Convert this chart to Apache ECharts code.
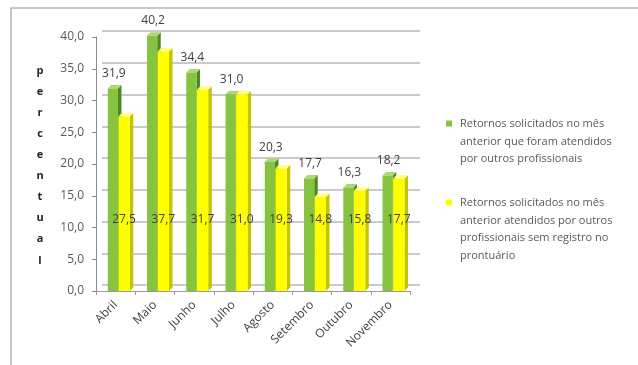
<!DOCTYPE html>
<html><head><meta charset="utf-8">
<script src="https://cdn.jsdelivr.net/npm/echarts@6/dist/echarts.min.js"></script>
<style>html,body{margin:0;padding:0;background:#fff}#c{width:638px;height:365px}</style>
</head><body><div id="c"></div>
<script>
const months = ['Abril','Maio','Junho','Julho','Agosto','Setembro','Outubro','Novembro'];
const atendidos = [31.9,40.2,34.4,31.0,20.3,17.7,16.3,18.2];
const semRegistro = [27.5,37.7,31.7,31.0,19.3,14.8,15.8,17.7];
const seriesNames = ['Retornos solicitados no mês anterior que foram atendidos por outros profissionais',
  'Retornos solicitados no mês anterior atendidos por outros profissionais sem registro no prontuário'];
const legendLines = [
  'Retornos solicitados no mês\nanterior que foram atendidos\npor outros profissionais',
  'Retornos solicitados no mês\nanterior atendidos por outros\nprofissionais sem registro no\nprontuário'];
const yTitle = 'percentual';
const yMin = 0, yMax = 40, yStep = 5;

const FONT = '"Open Sans"';
const fmt = v => v.toFixed(1).replace('.', ',');
const palette = [
  {front:'#86c440', side:'#4d8a1c', top:'#a9d874'},
  {front:'#ffff00', side:'#c4c400', top:'#ffff8a'}
];

function makeRender(kind){
  return function(params, api){
    const i = api.value(0), v = api.value(1);
    const top = api.coord([i, v]);
    const base = api.coord([i, 0]);
    const b = api.size([1, 0])[0];
    const c = top[0];
    const x0 = kind === 0 ? c - 0.2*b : c + 0.07*b;
    const w = kind === 0 ? 0.26*b : 0.29*b;
    const d = 3.5;
    const col = palette[kind];
    const ty = top[1], by = base[1];
    const children = [
      {type:'polygon', shape:{points:[[x0+w,ty],[x0+w+d,ty-d],[x0+w+d,by-d],[x0+w,by]]}, style:{fill:col.side}},
      {type:'polygon', shape:{points:[[x0,ty],[x0+d,ty-d],[x0+w+d,ty-d],[x0+w,ty]]}, style:{fill:col.top}},
      {type:'rect', shape:{x:x0, y:ty, width:w, height:by-ty}, style:{fill:col.front}},
      {type:'text', z2:10, style:{
        text: fmt(v),
        x: kind === 0 ? x0 + w/2 + 1 : x0 + w/2,
        y: kind === 0 ? ty - 15 : by - 71,
        align:'center', verticalAlign:'middle',
        font: '12px ' + FONT, fill:'#404040'}}
    ];
    return {type:'group', children};
  };
}

const chart = echarts.init(document.getElementById('c'));
chart.setOption({
  animation:false,
  backgroundColor:'#fff',
  textStyle:{fontFamily:'Open Sans'},
  grid:[
    {left:96, right:228, top:37, bottom:74},
    {left:102, right:218, top:31, bottom:80}
  ],
  xAxis:[
    {type:'category', gridIndex:0, data:months,
      axisLine:{lineStyle:{color:'#9a9a9a', width:1}},
      axisTick:{show:true, length:4, lineStyle:{color:'#9a9a9a'}},
      axisLabel:{rotate:45, fontSize:12, color:'#404040', margin:12, fontFamily:'Open Sans'}},
    {type:'category', gridIndex:1, data:months, show:false}
  ],
  yAxis:[
    {type:'value', gridIndex:0, min:yMin, max:yMax, interval:yStep,
      axisLine:{show:true, lineStyle:{color:'#8a8a8a', width:1}},
      axisTick:{show:true, length:4, lineStyle:{color:'#8a8a8a'}},
      splitLine:{show:false},
      axisLabel:{formatter:v=>fmt(v), fontSize:12, color:'#595959', margin:12, fontFamily:'Open Sans'}},
    {type:'value', gridIndex:1, min:yMin, max:yMax, interval:yStep,
      axisLine:{show:false}, axisTick:{show:false}, axisLabel:{show:false},
      splitLine:{show:true, lineStyle:{color:'#b8b8b8', width:1.5}}}
  ],
  series:[
    {type:'custom', name:seriesNames[0], xAxisIndex:0, yAxisIndex:0,
      renderItem:makeRender(0), encode:{x:0, y:1}, z:3,
      data:atendidos.map((v,i)=>[i,v])},
    {type:'custom', name:seriesNames[1], xAxisIndex:0, yAxisIndex:0,
      renderItem:makeRender(1), encode:{x:0, y:1}, z:4,
      data:semRegistro.map((v,i)=>[i,v])}
  ],
  graphic:[
    {type:'rect', shape:{x:11, y:8, width:640, height:370}, style:{fill:'none', stroke:'#b5b5b5', lineWidth:1.5}, silent:true},
    {type:'text', x:40, y:60, style:{text:yTitle.split('').join('\n'), align:'center', verticalAlign:'top',
      font:'bold 11px ' + FONT, lineHeight:21.1, fill:'#262626'}},
    {type:'rect', shape:{x:446, y:120.5, width:6, height:6}, style:{fill:palette[0].front}},
    {type:'text', x:460, y:115, style:{text:legendLines[0], font:'11px ' + FONT, lineHeight:17.7, fill:'#595959', verticalAlign:'top'}},
    {type:'rect', shape:{x:446, y:199.5, width:6, height:6}, style:{fill:palette[1].front}},
    {type:'text', x:460, y:194, style:{text:legendLines[1], font:'11px ' + FONT, lineHeight:17.7, fill:'#595959', verticalAlign:'top'}}
  ]
});
</script></body></html>
